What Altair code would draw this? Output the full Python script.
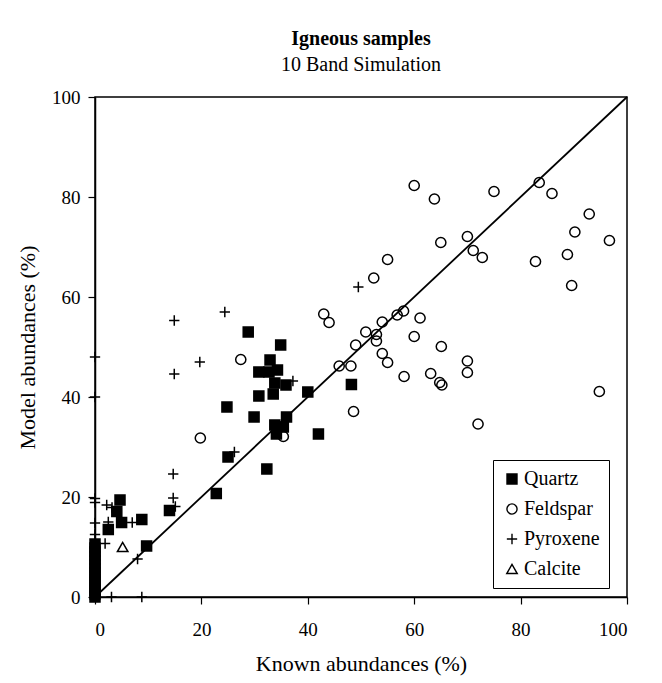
import altair as alt
import pandas as pd

minerals = ["Quartz", "Feldspar", "Pyroxene", "Calcite"]

quartz_x = [28.8, 34.9, 32.9, 30.8, 32.7, 34.3, 33.8, 35.9, 30.8, 33.5, 40.0, 24.8, 29.9, 36.0,
            33.8, 35.4, 34.1, 42.0, 25.0, 32.3, 48.2, 22.8, 14.0, 4.7, 4.1, 5.0, 8.8, 2.5, 9.7,
            0, 0, 0, 0, 0, 0, 0, 0, 0, 0, 0, 0, 0, 0, 0]
quartz_y = [53.0, 50.4, 47.4, 45.0, 45.0, 45.4, 42.8, 42.4, 40.2, 40.6, 41.0, 38.0, 36.0, 36.0,
            34.4, 34.0, 32.6, 32.6, 28.0, 25.6, 42.5, 20.7, 17.3, 19.4, 17.1, 14.9, 15.5, 13.5, 10.2,
            0.0, 0.6, 1.3, 2.0, 2.8, 3.5, 4.3, 5.0, 5.8, 6.6, 7.4, 8.2, 9.0, 9.8, 10.6]

feldspar_x = [60.0, 63.8, 65.0, 70.0, 71.1, 72.8, 55.0, 52.4, 43.0, 44.0, 58.0, 56.8, 61.1, 54.0,
              50.9, 52.9, 52.9, 49.0, 60.0, 54.0, 55.0, 65.1, 45.9, 48.1, 58.1, 63.1, 64.8, 65.2,
              70.0, 70.0, 48.6, 72.0, 35.4, 27.4, 19.8, 75.0, 83.5, 85.9, 92.9, 90.2, 96.7, 88.8,
              82.8, 89.6, 94.8]
feldspar_y = [82.3, 79.6, 70.9, 72.1, 69.3, 67.9, 67.5, 63.8, 56.6, 54.9, 57.2, 56.4, 55.8, 55.0,
              53.0, 52.5, 51.2, 50.4, 52.1, 48.7, 46.9, 50.1, 46.2, 46.2, 44.1, 44.7, 42.9, 42.4,
              47.2, 44.9, 37.1, 34.6, 32.1, 47.5, 31.8, 81.1, 82.9, 80.7, 76.6, 73.0, 71.3, 68.5,
              67.1, 62.3, 41.1]

pyroxene_x = [49.5, 24.4, 14.9, 19.7, 14.9, 0, 0, 14.7, 14.7, 15.1, 26.2, 37.2, 0, 0, 2.2, 3.2,
              0, 2.5, 7.0, 0, 1.9, 8.0, 3.1, 8.8]
pyroxene_y = [62.0, 57.0, 55.3, 47.0, 44.6, 48.0, 40.0, 24.6, 19.8, 18.1, 29.0, 43.2, 19.7, 18.9,
              18.4, 17.9, 14.8, 15.0, 14.9, 12.5, 10.7, 7.6, 0.0, 0.0]

calcite_x = [5.2]
calcite_y = [10.0]

rows = []
for name, xs, ys in [("Pyroxene", pyroxene_x, pyroxene_y),
                     ("Feldspar", feldspar_x, feldspar_y),
                     ("Calcite", calcite_x, calcite_y),
                     ("Quartz", quartz_x, quartz_y)]:
    for a, b in zip(xs, ys):
        rows.append({"mineral": name, "known": a, "model": b})
df = pd.DataFrame(rows)

line_df = pd.DataFrame({"known": [0, 100], "model": [0, 100]})

FONT = "Liberation Serif"
xscale = alt.Scale(domain=[0, 100], nice=False, zero=False)
yscale = alt.Scale(domain=[0, 100], nice=False, zero=False)

xaxis = alt.Axis(values=[0, 20, 40, 60, 80, 100], title="Known abundances (%)", grid=False,
                 tickSize=7, labelPadding=16, titlePadding=14)
yaxis = alt.Axis(values=[0, 20, 40, 60, 80, 100], title="Model abundances (%)", grid=False,
                 tickSize=7, labelPadding=8, titlePadding=12)

legend = alt.Legend(title=None, orient="none", legendX=398, legendY=363,
                    strokeColor="black", fillColor="white", padding=9,
                    labelFont=FONT, labelFontSize=20, labelColor="black",
                    rowPadding=10, symbolStrokeWidth=1.4, labelOffset=2)

shapes = ["square", "circle", "M-1,0L1,0M0,-1L0,1", "triangle-up"]
fills = ["black", "transparent", "transparent", "transparent"]
strokes = ["black", "black", "black", "black"]
sizes = [100, 110, 180, 130]

line = alt.Chart(line_df).mark_line(color="black", strokeWidth=1.8).encode(
    x=alt.X("known:Q", scale=xscale, axis=xaxis),
    y=alt.Y("model:Q", scale=yscale, axis=yaxis),
)

points = alt.Chart(df).mark_point(opacity=1, strokeWidth=1.5).encode(
    x=alt.X("known:Q", scale=xscale, axis=xaxis),
    y=alt.Y("model:Q", scale=yscale, axis=yaxis),
    shape=alt.Shape("mineral:N", scale=alt.Scale(domain=minerals, range=shapes), legend=legend),
    fill=alt.Fill("mineral:N", scale=alt.Scale(domain=minerals, range=fills), legend=legend),
    stroke=alt.Stroke("mineral:N", scale=alt.Scale(domain=minerals, range=strokes), legend=legend),
    size=alt.Size("mineral:N", scale=alt.Scale(domain=minerals, range=sizes), legend=legend),
)

chart = (line + points).properties(
    width=532, height=500,
    title=alt.TitleParams("Igneous samples", subtitle="10 Band Simulation", anchor="middle",
                          font=FONT, fontSize=20, fontWeight="bold", color="black",
                          subtitleFont=FONT, subtitleFontSize=20, subtitleColor="black",
                          subtitlePadding=6, offset=13),
    autosize=alt.AutoSizeParams(type="none"),
    padding={"left": 95, "top": 97, "right": 35, "bottom": 86},
).configure_view(stroke="black", strokeWidth=1.5).configure_axis(
    domainColor="black", domainWidth=1.5, tickColor="black", tickWidth=1.2,
    labelFont=FONT, labelFontSize=19, labelColor="black",
    titleFont=FONT, titleFontSize=22, titleColor="black", titleFontWeight="normal",
)

chart.save("out.html", embed_options={"renderer": "svg", "actions": False})
